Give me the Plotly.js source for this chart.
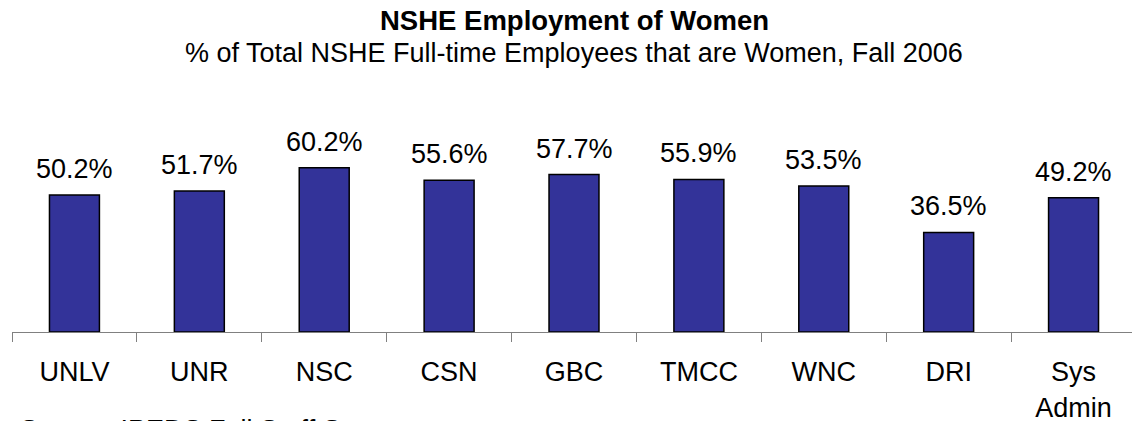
<!DOCTYPE html>
<html>
<head>
<meta charset="utf-8">
<script src="https://cdn.plot.ly/plotly-3.0.1.min.js"></script>
<style>
  html, body { margin: 0; padding: 0; background: #ffffff; }
  #chart { width: 1132px; height: 421px; }
</style>
</head>
<body>
<div id="chart"></div>
<script>
// Data
const categories = ["UNLV", "UNR", "NSC", "CSN", "GBC", "TMCC", "WNC", "DRI", "Sys<br>Admin"];
const womenPct = [50.2, 51.7, 60.2, 55.6, 57.7, 55.9, 53.5, 36.5, 49.2];
const valueLabels = ["50.2%", "51.7%", "60.2%", "55.6%", "57.7%", "55.9%", "53.5%", "36.5%", "49.2%"];
const titleText = "NSHE Employment of Women";
const subtitleText = "% of Total NSHE Full-time Employees that are Women, Fall 2006";
const sourceText = "Source: IPEDS Fall Staff Survey";

const FONT = "Liberation Sans, Arial, Helvetica, sans-serif";

const trace = {
  type: "bar",
  x: categories,
  y: womenPct,
  marker: { color: "#333399", line: { color: "#000000", width: 1.5 } },
  hoverinfo: "none"
};

const annotations = categories.map((c, i) => ({
  x: c, y: womenPct[i], xref: "x", yref: "y",
  text: valueLabels[i], showarrow: false,
  xanchor: "center", yanchor: "bottom", yshift: 9,
  font: { family: FONT, size: 27, color: "#000000" }
}));

annotations.push({
  xref: "paper", yref: "paper", x: 0.502, y: 1.7225,
  xanchor: "center", yanchor: "top", showarrow: false,
  text: "<b>" + titleText + "</b>",
  font: { family: FONT, size: 27.5, color: "#000000" }
});
annotations.push({
  xref: "paper", yref: "paper", x: 0.502, y: 1.5497,
  xanchor: "center", yanchor: "top", showarrow: false,
  text: subtitleText,
  font: { family: FONT, size: 27, color: "#000000" }
});
annotations.push({
  xref: "paper", yref: "paper", x: 0.005, y: -0.424,
  xanchor: "left", yanchor: "top", showarrow: false,
  text: sourceText,
  font: { family: FONT, size: 27, color: "#000000" }
});

const layout = {
  width: 1132, height: 421,
  margin: { l: 12, r: 0, t: 141, b: 89, pad: 0 },
  paper_bgcolor: "#ffffff", plot_bgcolor: "#ffffff",
  showlegend: false,
  bargap: 0.6,
  font: { family: FONT, size: 27, color: "#000000" },
  xaxis: {
    type: "category",
    range: [-0.5, 8.468],
    showline: true, linecolor: "#808080", linewidth: 1,
    ticks: "outside", tickson: "boundaries", ticklen: 9, tickcolor: "#808080", tickwidth: 1,
    ticklabelstandoff: 16,
    tickfont: { family: FONT, size: 27, color: "#000000" },
    showgrid: false, zeroline: false, fixedrange: true
  },
  yaxis: {
    range: [0, 70],
    showline: false, showgrid: false, zeroline: false,
    showticklabels: false, ticks: "", fixedrange: true
  },
  annotations: annotations
};

Plotly.newPlot("chart", [trace], layout, { displayModeBar: false, staticPlot: true });
</script>
</body>
</html>
